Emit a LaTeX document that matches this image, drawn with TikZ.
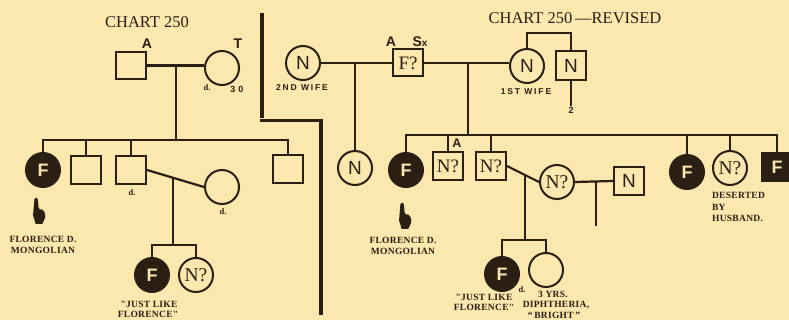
\documentclass[tikz,border=0pt]{standalone}
\usepackage{fontspec}
\setmainfont{Liberation Serif}
\newfontfamily\sansf{Liberation Sans}
\newfontfamily\labf{Liberation Serif}[LetterSpace=3]
\newfontfamily\wifef{Liberation Sans}[LetterSpace=22]
\usetikzlibrary{calc}
\definecolor{bg}{HTML}{FAE8AE}
\definecolor{ink}{HTML}{2B1E12}
\tikzset{
  circ/.style={circle, draw, line width=2pt, minimum size=34pt, inner sep=0pt, font=\sansf\fontsize{19}{19}\selectfont},
  qc/.style={circ, font=\fontsize{19.5}{19}\selectfont},
  aff/.style={circ, fill=ink, text=bg, font=\sansf\bfseries\fontsize{18}{18}\selectfont},
  sq/.style={rectangle, draw, line width=2pt, minimum width=30pt, minimum height=28pt, inner sep=0pt},
  sqn/.style={sq, font=\sansf\fontsize{19}{19}\selectfont},
  sqq/.style={sq, font=\fontsize{19}{19}\selectfont},
  lab/.style={font=\labf\bfseries\fontsize{9.5}{10}\selectfont, inner sep=0pt},
  wl/.style={font=\wifef\bfseries\fontsize{8.5}{8.5}\selectfont, inner sep=0pt},
  sl/.style={font=\sansf\bfseries\fontsize{14}{14}\selectfont, inner sep=0pt},
  dl/.style={font=\bfseries\fontsize{8.5}{8.5}\selectfont, inner sep=0pt},
  nl/.style={font=\sansf\bfseries\fontsize{9}{9}\selectfont, inner sep=0pt},
  ttl/.style={font=\fontsize{16.5}{17}\selectfont, inner sep=0pt},
  hand/.pic={
    \fill[ink, rounded corners=1.2pt] (-4.5,-26) -- (-1.2,-26) -- (-0.3,-15) -- (4.5,-14) -- (6.5,-9) -- (5.5,-4) -- (4,-3) -- (4,0) -- (-4,0) -- (-4,-3) -- (-6,-8) -- (-5.5,-14) -- cycle;
  }
}
\begin{document}
\begin{tikzpicture}[x=1pt,y=-1pt,color=ink,line width=2.2pt]
\fill[bg] (0,0) rectangle (789,320);
\useasboundingbox (0,0) rectangle (789,320);

% dividing line
\draw[line width=3.8pt] (262,13) -- (262,118);
\draw[line width=2.4pt] (260.2,120.5) -- (321,120.5);
\draw[line width=3.8pt] (321,119.5) -- (321,315);

% ---------------- left chart ----------------
\node[ttl] (t1) at (147,22) {CHART 250};
\node[sq, minimum height=27pt] (A) at (131,65.5) {};
\node[circ] (T) at (222,68) {};
\node[sl] (la) at (147,44) {A};
\node[sl] (lt) at (238,44) {T};
\node[dl] (ld1) at (207,88) {d.};
\node[nl] (l30) at (237,89) {3\,\,0};
\draw (A.east) -- (A.east -| T.west);
\coordinate (m1) at (176,65.5);
\coordinate (s1) at (0,140);
\draw (m1) -- (m1 |- s1);
\node[aff] (F1) at (43,170) {F};
\node[sq] (S2) at (86,170) {};
\node[sq] (S3) at (131,170) {};
\node[sq] (S4) at (288,169) {};
\draw (F1.north) -- (F1.north |- s1) -- (S4.north |- s1) -- (S4.north);
\draw (S2.north) -- (S2.north |- s1);
\draw (S3.north) -- (S3.north |- s1);
\node[dl] (ld2) at (132,193) {d.};
\node[circ] (W) at (222,187) {};
\node[dl] (ld3) at (223,212) {d.};
\draw (S3.east) -- (W.west);
\coordinate (m2) at ($(S3.east)!0.46!(W.west)$);
\coordinate (s2) at (0,245);
\draw (m2) -- (m2 |- s2);
\node[aff] (F2) at (152,275) {F};
\node[qc] (Q0) at (196,275) {N?};
\draw (F2.north) -- (F2.north |- s2) -- (Q0.north |- s2) -- (Q0.north);
\pic at (39,224) {hand};
\node[lab] (fl1) at (43,239) {FLORENCE D.};
\node[lab] (mo1) at (43,250) {MONGOLIAN};
\node[lab] (jl1) at (149,304) {"JUST LIKE};
\node[lab] (fo1) at (148,314) {FLORENCE"};

% ---------------- right chart ----------------
\node[ttl] (t2) at (575,18) {CHART 250\,—REVISED};
\node[circ] (N2) at (303,63) {N};
\node[wl] (w2) at (302,88) {2ND WIFE};
\node[sqq, minimum height=27pt] (FQ) at (408,63) {F?};
\node[sl] (la2) at (391,42) {A};
\node[sl] (lsx) at (420,42) {S\fontsize{10}{10}\selectfont x};
\node[circ] (N1) at (527,66) {N};
\node[wl] (w1) at (526,92) {1ST WIFE};
\node[sqn, minimum height=29pt] (NS) at (571,66) {N};
\draw (N2.east) -- (FQ.west);
\draw (FQ.east) -- (FQ.east -| N1.west);
\coordinate (b1) at (0,33);
\draw (N1.north) -- (N1.north |- b1) -- (NS.north |- b1) -- (NS.north);
\node[nl] (n2) at (571,110) {2};
\draw (NS.south) -- (n2.north);

\node[circ] (Nc) at (355,168) {N};
\draw (Nc.north) -- (Nc.north |- FQ.west);
\coordinate (m3) at (468,63);
\coordinate (s3) at (0,135);
\draw (m3) -- (m3 |- s3);

\node[aff] (Fa) at (406,170) {F};
\node[sqq] (Q1) at (448,166) {N?};
\node[sl, font=\sansf\bfseries\fontsize{12.5}{12}\selectfont] (la3) at (457,143) {A};
\node[sqq] (Q2) at (491,166) {N?};
\node[aff] (Fb) at (687,172) {F};
\node[qc] (Nq) at (730,168) {N?};
\node[sq, fill=ink, text=bg, font=\sansf\bfseries\fontsize{18}{18}\selectfont] (Fs) at (777,167) {F};
\draw (Fa.north) -- (Fa.north |- s3) -- (Fs.north |- s3) -- (Fs.north);
\draw (Q1.north) -- (Q1.north |- s3);
\draw (Q2.north) -- (Q2.north |- s3);
\draw (Fb.north) -- (Fb.north |- s3);
\draw (Nq.north) -- (Nq.north |- s3);

\node[qc] (Nm) at (557,182) {N?};
\draw (Q2.east) -- (Nm.west);
\coordinate (m4) at ($(Q2.east)!0.56!(Nm.west)$);
\coordinate (s4) at (0,240);
\draw (m4) -- (m4 |- s4);
\node[sqn] (Nr) at (629,181) {N};
\draw (Nm.east) -- (Nr.west);
\coordinate (e1) at (596,226);
\draw (e1 |- Nm.east) -- (e1);
\node[aff] (Fc) at (502,274) {F};
\node[circ] (Dc) at (546,270) {};
\draw (Fc.north) -- (Fc.north |- s4) -- (Dc.north |- s4) -- (Dc.north);

\pic at (405,229) {hand};
\node[lab] (fl2) at (403,240) {FLORENCE D.};
\node[lab] (mo2) at (403,251) {MONGOLIAN};
\node[lab] (jl2) at (484,297) {"JUST LIKE};
\node[lab] (fo2) at (484,307) {FLORENCE"};
\node[dl] (ld4) at (522,290) {d.};
\node[lab] (yr) at (553,294) {3 YRS.};
\node[lab] (di) at (556,305) {DIPHTHERIA,};
\node[lab] (br) at (554,315.5) {“\,BRIGHT\,”};
\node[lab, anchor=west] (de) at (711,195) {DESERTED};
\node[lab, anchor=west] (by) at (711,207) {BY};
\node[lab, anchor=west] (hu) at (711,218) {HUSBAND.};
\end{tikzpicture}
\end{document}
